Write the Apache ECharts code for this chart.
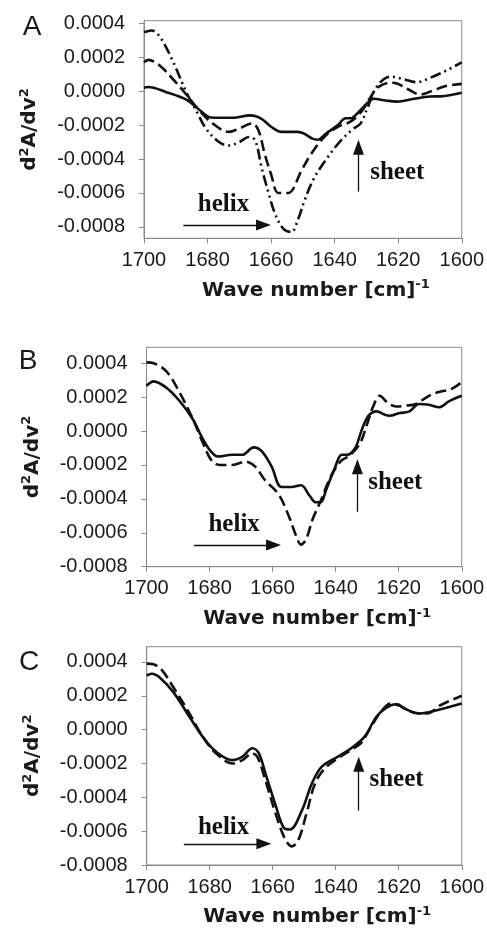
<!DOCTYPE html>
<html><head><meta charset="utf-8">
<script src="https://cdn.jsdelivr.net/npm/echarts@6/dist/echarts.min.js"></script>
<style>html,body{margin:0;padding:0;background:#fff}#c{width:487px;height:929px}</style>
</head><body><div id="c"></div>
<script>
// ---- tick labels ----
const xTicks = [1700, 1680, 1660, 1640, 1620, 1600];
const yTicks = [0.0004, 0.0002, 0, -0.0002, -0.0004, -0.0006, -0.0008];

// ---- panel A ----
const A_solid = [[1700,0.00002],[1698.7,0.000024],[1693,-0.000006],[1686.7,-0.00005],[1682.6,-0.00011],[1679,-0.000155],[1672,-0.000157],[1666.5,-0.000143],[1663,-0.000163],[1660,-0.00021],[1656.7,-0.00024],[1651.6,-0.00024],[1649.6,-0.00025],[1647,-0.00028],[1645.3,-0.000286],[1642.7,-0.00025],[1639,-0.0002],[1636.5,-0.00016],[1635,-0.00016],[1632.8,-0.00013],[1629.7,-0.00007],[1627.7,-0.000045],[1624,-0.000055],[1620.4,-0.000062],[1615,-0.000045],[1610,-0.000032],[1606,-0.00003],[1600,-0.00001]];
const A_dash = [[1700,0.00017],[1698.7,0.000184],[1695,0.00015],[1691,0.000073],[1686.7,-0.00002],[1682.6,-0.000114],[1678.4,-0.00019],[1673.3,-0.00024],[1670,-0.00022],[1666,-0.00019],[1664,-0.00023],[1662,-0.00037],[1660,-0.00049],[1657.7,-0.0006],[1654.6,-0.0006],[1650.5,-0.00047],[1647.4,-0.00037],[1643.3,-0.00027],[1639,-0.00021],[1635,-0.00018],[1632,-0.00013],[1630.8,-0.0001],[1628.5,-0.00003],[1626.6,0.00002],[1622.5,0.00005],[1620.4,0.000045],[1616.3,0.000005],[1613.2,-0.00002],[1609,0.000004],[1605,0.00003],[1600,0.000043]];
const A_dashdot = [[1700,0.000347],[1697.6,0.000357],[1695,0.00032],[1691,0.00018],[1686.7,-0.000006],[1683.6,-0.000114],[1680.5,-0.00022],[1676.4,-0.0003],[1673.3,-0.00032],[1670,-0.0003],[1667,-0.00027],[1665,-0.00029],[1663,-0.00045],[1660.8,-0.0006],[1658.8,-0.00072],[1656.2,-0.00081],[1653.6,-0.00083],[1651.6,-0.00076],[1649.4,-0.00064],[1646.4,-0.00051],[1642.2,-0.00039],[1638,-0.00029],[1634,-0.00022],[1631.8,-0.00019],[1629.7,-0.0001],[1626.6,0.00003],[1622.4,0.000086],[1618.3,0.00007],[1614.2,0.000053],[1610,0.000078],[1605,0.00012],[1600,0.00017]];

// ---- panel B ----
const B_solid = [[1700,0.000267],[1697.7,0.000293],[1693.6,0.000254],[1689.4,0.000175],[1685.2,0.000067],[1682.6,-0.00003],[1680,-0.00011],[1677.4,-0.00015],[1672.8,-0.00014],[1669.6,-0.00014],[1666,-0.000096],[1663.4,-0.00012],[1660.3,-0.00021],[1657.2,-0.00033],[1654,-0.00033],[1651,-0.00032],[1648.3,-0.00038],[1646.3,-0.00042],[1644.7,-0.00042],[1643.1,-0.00035],[1640.5,-0.00023],[1638,-0.00014],[1636.4,-0.00014],[1633.8,-0.0001],[1631.7,0.000008],[1629.6,0.00009],[1627,0.000116],[1624.4,0.000096],[1622.9,0.00009],[1619.7,0.000106],[1616.6,0.000116],[1613.5,0.00016],[1610.4,0.000155],[1607.2,0.00014],[1604.1,0.000175],[1600,0.000208]];
const B_dash = [[1700,0.000405],[1697.7,0.0004],[1693.6,0.00035],[1689.4,0.000224],[1685.2,0.000067],[1682.1,-0.00007],[1679.5,-0.00017],[1676.9,-0.0002],[1672.8,-0.0002],[1668.6,-0.00018],[1665.5,-0.00021],[1662.4,-0.00029],[1658.2,-0.00037],[1655.1,-0.00049],[1652.5,-0.00062],[1651,-0.00067],[1649.4,-0.00064],[1647.3,-0.00052],[1644.7,-0.00041],[1641.6,-0.00027],[1638.5,-0.00018],[1635.3,-0.00014],[1632.2,-0.00007],[1630.1,0.000037],[1628.1,0.000145],[1626,0.000208],[1623.4,0.000165],[1620.8,0.000145],[1617.7,0.00015],[1614.5,0.00016],[1610.4,0.000208],[1607.3,0.00023],[1603.1,0.00025],[1600,0.00029]];

// ---- panel C ----
const C_solid = [[1700,0.00032],[1698.4,0.00033],[1695.8,0.000307],[1691.6,0.000223],[1686.4,0.000075],[1682.2,-0.000043],[1678,-0.00013],[1672.8,-0.00018],[1669.6,-0.00016],[1666.5,-0.00011],[1664.4,-0.00014],[1662.3,-0.00026],[1659.2,-0.00044],[1656.5,-0.00058],[1654.5,-0.00059],[1650.8,-0.00048],[1647.6,-0.00032],[1644.5,-0.00022],[1639.3,-0.00016],[1635.1,-0.00011],[1630.9,-0.000043],[1626.7,0.000085],[1622.5,0.000144],[1620.4,0.00015],[1618.3,0.000125],[1613.1,0.000095],[1607.9,0.000115],[1600,0.000154]];
const C_dash = [[1700,0.00039],[1697.9,0.000386],[1695.3,0.000355],[1691.6,0.000252],[1686.4,0.000095],[1682.2,-0.000043],[1678,-0.00014],[1672.8,-0.0002],[1669.6,-0.00018],[1666.5,-0.00014],[1664.9,-0.00016],[1662.3,-0.0003],[1659.2,-0.00049],[1656,-0.00065],[1653.9,-0.00069],[1651.8,-0.00065],[1649.2,-0.00049],[1646.6,-0.00032],[1643.5,-0.00023],[1639.3,-0.00017],[1635.1,-0.00012],[1632,-0.00008],[1628.8,0.000016],[1625.7,0.000105],[1622.5,0.000154],[1619.4,0.000138],[1615.2,0.0001],[1611,0.000095],[1606.8,0.000144],[1600,0.0002]];

// ---- annotations (data coordinates) ----
const helixArrow = [[1687.6,-0.000788,1662.4],[1684.9,-0.000672,1659.7],[1688.2,-0.000675,1662.8]]; // x1, y, x2
const helixText  = [[1675,-0.00067],[1672.2,-0.000554],[1675.6,-0.000577]];
const sheetArrow = [[1632.5,-0.000592,-0.00033],[1633.1,-0.000476,-0.00021],[1632.7,-0.000479,-0.000205]]; // x, y1, y2
const sheetText  = [[1620.3,-0.000482],[1621.1,-0.000304],[1620.7,-0.000294]];
const letters = ['A','B','C'];

const LINE = {solid:'solid', dash:[11,5], dashdot:[11,4,2,4,2,4]};
const panels = [
  {grid:{left:144, top:20.7, width:321.7, height:217.6}, ymin:-0.000867, ymax:0.000415,
   series:[[A_solid,'solid'],[A_dash,'dash'],[A_dashdot,'dashdot']], letterPos:[32,27]},
  {grid:{left:146.5, top:347.3, width:321.8, height:219.4}, ymin:-0.0008, ymax:0.000494,
   series:[[B_solid,'solid'],[B_dash,'dash']], letterPos:[28,361]},
  {grid:{left:146.7, top:646.7, width:318.3, height:218.3}, ymin:-0.0008, ymax:0.00049,
   series:[[C_solid,'solid'],[C_dash,'dash']], letterPos:[29,662]}
];

const AX = '#8a8a8a';
const txt = '#1a1a1a';
const grids=[], xAxes=[], yAxes=[], series=[], graphics=[];
panels.forEach((p,i)=>{
  grids.push(Object.assign({show:true, borderColor:AX, borderWidth:1, backgroundColor:'#fff'}, p.grid));
  xAxes.push({type:'value', gridIndex:i, inverse:true, min:1600, max:1700, interval:20,
    axisLine:{show:true, onZero:false, lineStyle:{color:AX, width:1}},
    axisTick:{show:true, length:5, lineStyle:{color:AX}, customValues:xTicks},
    splitLine:{show:false},
    axisLabel:{show:true, margin:12, fontFamily:'Liberation Sans', fontSize:20, color:txt, customValues:xTicks,
      formatter:v=>String(Math.round(v))},
    name:'{m|Wave number [cm]}{s|-1}', nameLocation:'middle', nameGap:40,
    nameTextStyle:{padding:[0,0,0,26], rich:{
      m:{fontFamily:'DejaVu Sans', fontWeight:'bold', fontSize:20, color:txt, lineHeight:24},
      s:{fontFamily:'DejaVu Sans', fontWeight:'bold', fontSize:13, color:txt, lineHeight:14, verticalAlign:'top'}}}
  });
  yAxes.push({type:'value', gridIndex:i, min:p.ymin, max:p.ymax,
    axisLine:{show:true, onZero:false, lineStyle:{color:AX, width:1}},
    axisTick:{show:true, length:5, lineStyle:{color:AX}, customValues:yTicks},
    splitLine:{show:false},
    axisLabel:{show:true, margin:19, fontFamily:'Liberation Sans', fontSize:20, color:txt, customValues:yTicks,
      formatter:v=>(Math.abs(v)<1e-12?0:v).toFixed(4)},
    name:'{m|d}{s|2}{m|A/dv}{s|2}', nameLocation:'middle', nameGap:102,
    nameTextStyle:{rich:{
      m:{fontFamily:'DejaVu Sans', fontWeight:'bold', fontSize:20, color:txt, lineHeight:24},
      s:{fontFamily:'DejaVu Sans', fontWeight:'bold', fontSize:13, color:txt, lineHeight:14, verticalAlign:'top'}}}
  });
  p.series.forEach(([d,st],k)=>{
    const s = {type:'line', xAxisIndex:i, yAxisIndex:i, data:d, symbol:'none', smooth:0.35, silent:true,
      lineStyle:{color:'#111', width:2.6, type:LINE[st], cap:'butt'}, z:3};
    if(k===0){
      const ha=helixArrow[i], sa=sheetArrow[i];
      s.markLine = {silent:true, symbol:['none','triangle'], symbolSize:[11,15], label:{show:false},
        lineStyle:{color:'#111', width:1.3, type:'solid'}, animation:false,
        data:[[{coord:[ha[0],ha[1]]},{coord:[ha[2],ha[1]]}], [{coord:[sa[0],sa[1]]},{coord:[sa[0],sa[2]]}]]};
      s.markPoint = {silent:true, symbol:'circle', symbolSize:1, itemStyle:{color:'rgba(0,0,0,0)'}, animation:false,
        label:{show:true, position:'inside', formatter:'{b}', fontFamily:'Liberation Serif', fontWeight:'bold', fontSize:25, color:'#111'},
        data:[{name:'helix', coord:helixText[i]},{name:'sheet', coord:sheetText[i]}]};
    }
    series.push(s);
  });
  graphics.push({type:'text', x:p.letterPos[0], y:p.letterPos[1],
    style:{text:letters[i], font:'28px "Liberation Sans"', fill:txt, textAlign:'center', textVerticalAlign:'middle'}});
});

const chart = echarts.init(document.getElementById('c'), null, {renderer:'canvas'});
chart.setOption({animation:false, backgroundColor:'#fff', grid:grids, xAxis:xAxes, yAxis:yAxes, series:series, graphic:graphics});
</script></body></html>
